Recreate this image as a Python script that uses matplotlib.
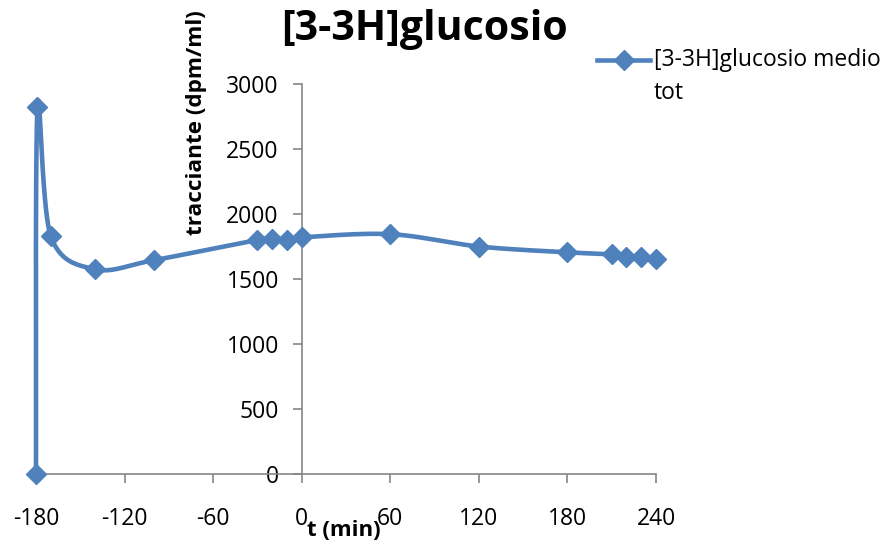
import numpy as np
import matplotlib.pyplot as plt
from matplotlib.lines import Line2D

# Time (min) and tracer concentration (dpm/ml)
t_min = [-180, -179, -170, -140, -100, -30, -20, -10, 0, 60, 120, 180, 210, 220, 230, 240]
tracer = [0, 2820, 1830, 1575, 1645, 1800, 1810, 1800, 1820, 1845, 1750, 1705, 1690, 1670, 1668, 1655]

x_ticks = [-180, -120, -60, 0, 60, 120, 180, 240]
y_ticks = [0, 500, 1000, 1500, 2000, 2500, 3000]

blue = '#4F81BD'
grey = '#868686'
plt.rcParams['font.family'] = ['Open Sans', 'DejaVu Sans']
plt.rcParams['axes.unicode_minus'] = False


def smooth_curve(ax, xs, ys, n=40):
    # Bezier smoothing done in screen space, like spreadsheet "smoothed line"
    pts = ax.transData.transform(np.column_stack([xs, ys]))
    out = [pts[0]]
    s = np.linspace(0, 1, n)[1:, None]
    for i in range(len(pts) - 1):
        p0 = pts[i - 1] if i > 0 else pts[i]
        p1, p2 = pts[i], pts[i + 1]
        p3 = pts[i + 2] if i + 2 < len(pts) else pts[i + 1]
        c1 = p1 + (p2 - p0) / 6
        c2 = p2 - (p3 - p1) / 6
        seg = (1 - s)**3 * p1 + 3 * (1 - s)**2 * s * c1 + 3 * (1 - s) * s**2 * c2 + s**3 * p2
        out.extend(seg)
    out = ax.transData.inverted().transform(np.array(out))
    return out[:, 0], out[:, 1]


fig = plt.figure(figsize=(8.89, 5.54), dpi=100)
ax = fig.add_axes([36 / 889, 80 / 554, 620 / 889, 390 / 554])
ax.set_xlim(-180, 240)
ax.set_ylim(0, 3000)

sx, sy = smooth_curve(ax, t_min, tracer)
ax.plot(sx, sy, color=blue, lw=3.3, solid_capstyle='round', clip_on=False, zorder=3)
ax.plot(t_min, tracer, linestyle='none', marker='D', ms=10, color=blue, clip_on=False, zorder=4)

# axes crossing at t = 0
ax.spines['left'].set_position(('data', 0))
ax.spines['top'].set_visible(False)
ax.spines['right'].set_visible(False)
for sp in ('left', 'bottom'):
    ax.spines[sp].set_color(grey)
    ax.spines[sp].set_linewidth(1.2)

ax.set_xticks(x_ticks)
ax.set_yticks(y_ticks)
ax.tick_params(axis='both', direction='out', length=6.5, width=1.2, color=grey,
               labelsize=16.5)
ax.tick_params(axis='x', pad=17)
ax.tick_params(axis='y', pad=10)

fig.text(425 / 889, 1 - 30 / 554, '[3-3H]glucosio', fontsize=29.5, fontweight='bold',
         ha='center', va='center')
ax.set_xlabel('t (min)', fontsize=16, fontweight='bold')
ax.xaxis.set_label_coords((344 - 36) / 620, -0.118)
ax.set_ylabel('tracciante (dpm/ml)', fontsize=16.2, fontweight='bold')
ax.yaxis.set_label_coords((207 - 36) / 620, (554 - 123 - 80) / 390)

# legend
fig.add_artist(Line2D([597 / 889, 650 / 889], [1 - 60 / 554] * 2, color=blue, lw=3.3,
                      transform=fig.transFigure))
fig.add_artist(Line2D([623.5 / 889], [1 - 60 / 554], color=blue, marker='D', ms=10,
                      linestyle='none', transform=fig.transFigure))
fig.text(654 / 889, 1 - 60 / 554, '[3-3H]glucosio medio', fontsize=16.5, va='center')
fig.text(654 / 889, 1 - 93 / 554, 'tot', fontsize=16.5, va='center')

fig.savefig('out.png', dpi=100)
